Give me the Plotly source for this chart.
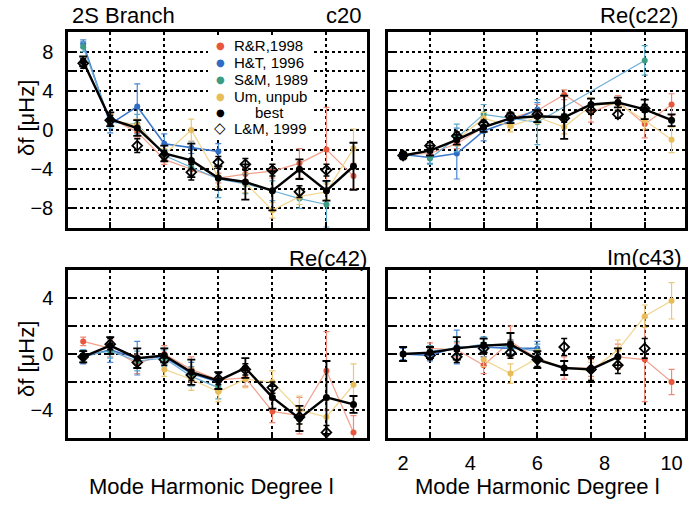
import plotly.graph_objects as go

# ---------------- data ----------------
degree = [2.0, 2.8, 3.6, 4.4, 5.2, 6.0, 6.8, 7.6, 8.4, 9.2, 10.0]
x_tick_labels = [2, 4, 6, 8, 10]
x_grid = [2.8, 4.4, 6.0, 7.6, 9.2]

series_names = ["R&R,1998", "H&T, 1996", "S&M, 1989", "Um, unpub", "best", "L&M, 1999"]
panel_titles = ["c20", "Re(c22)", "Re(c42)", "Im(c43)"]
N = None

# c20
c20_rr = [7.0, 1.2, -0.2, -3.0, -4.0, -4.9, -4.5, -4.2, -3.4, -2.0, -4.7]
c20_rr_err = [0.5, 0.5, 0.6, 0.5, 0.6, 0.5, 0.6, 0.7, 1.5, 4.3, 1.3]
c20_ht = [8.8, 0.6, 2.4, -1.4, -1.8, -2.2, N, N, N, N, N]
c20_ht_err = [0.4, 0.9, 2.3, 1.0, 0.6, 0.8, 0, 0, 0, 0, 0]
c20_sm = [8.5, 0.8, 0.6, -2.6, -3.8, -5.0, -5.5, -6.2, -7.0, -7.6, N]
c20_sm_err = [0.5, 0.6, 1.0, 0.6, 0.8, 1.9, 1.0, 1.0, 1.0, 2.3, 0]
c20_um = [N, 1.0, 0.5, -2.5, 0.0, -4.8, -5.4, -8.2, -6.8, -6.3, -1.9]
c20_um_err = [0, 0.6, 0.6, 0.6, 1.1, 1.0, 1.0, 0.8, 0.8, 0.8, 2.0]
c20_best = [7.0, 1.1, 0.2, -2.4, -3.1, -4.9, -5.3, -6.2, -4.0, -6.2, -3.7]
c20_best_err = [0.5, 0.7, 0.8, 0.8, 1.7, 1.2, 1.8, 2.0, 1.0, 1.0, 2.4]
c20_lm = [6.8, 1.0, -1.6, -2.6, -4.3, -3.3, -3.5, -4.1, -6.3, -4.1, N]
c20_lm_err = [0.5, 0.5, 0.7, 0.5, 0.8, 0.6, 0.6, 0.6, 0.6, 0.6, 0]

# Re(c22)
c22_rr = [-2.5, -2.4, -1.4, 0.3, 1.2, 2.0, 3.6, 1.8, 2.9, 0.6, 2.6]
c22_rr_err = [0.3, 0.4, 0.5, 0.5, 0.5, 0.6, 0.5, 1.0, 0.6, 1.4, 1.1]
c22_ht = [-2.5, -2.8, -2.4, -0.1, 0.9, 2.1, N, N, N, N, N]
c22_ht_err = [0.3, 0.6, 2.6, 1.0, 0.6, 0.7, 0, 0, 0, 0, 0]
c22_sm = [N, -2.9, -0.8, 1.6, 1.2, 0.8, N, N, N, 7.1, N]
c22_sm_err = [0, 0.6, 1.4, 1.0, 0.5, 2.3, 0, 0, 0, 1.5, 0]
c22_um = [N, N, -1.0, 1.2, 0.4, 1.3, 0.3, 2.5, 2.7, 1.0, -1.0]
c22_um_err = [0, 0, 0.6, 0.6, 0.6, 0.6, 0.7, 0.8, 0.6, 0.9, 1.3]
c22_best = [-2.6, -2.1, -1.0, 0.3, 1.2, 1.4, 1.3, 2.6, 2.8, 2.1, 1.0]
c22_best_err = [0.3, 0.5, 0.5, 0.5, 0.5, 0.6, 2.2, 0.6, 0.5, 1.0, 0.6]
c22_lm = [-2.6, -1.6, -0.6, 0.6, 1.4, 1.6, 1.2, 2.0, 1.6, 2.2, N]
c22_lm_err = [0.4, 0.4, 0.4, 0.4, 0.4, 0.4, 0.4, 0.4, 0.4, 0.4, 0]

# Re(c42)
c42_rr = [0.9, 0.4, -0.7, 0.0, -1.1, -1.85, -1.7, -4.1, -4.4, -1.2, -5.6]
c42_rr_err = [0.3, 0.6, 0.7, 0.6, 0.9, 0.6, 0.6, 0.8, 1.3, 2.8, 1.2]
c42_ht = [-0.2, 0.3, -0.3, -0.2, -1.4, -2.0, N, N, N, N, N]
c42_ht_err = [0.5, 0.9, 1.2, 0.6, 0.8, 0.7, 0, 0, 0, 0, 0]
c42_sm = [-0.1, 0.2, -0.5, -0.3, -1.6, -2.4, N, N, N, N, N]
c42_sm_err = [0.4, 0.5, 0.7, 0.6, 0.7, 0.8, 0, 0, 0, 0, 0]
c42_um = [N, N, N, -1.1, -1.8, -2.7, -1.8, -2.0, -4.0, -4.5, -2.2]
c42_um_err = [0, 0, 0, 0.5, 0.8, 0.7, 0.6, 0.8, 1.0, 1.2, 1.5]
c42_best = [-0.2, 0.6, -0.3, -0.1, -1.3, -1.9, -1.0, -3.1, -4.6, -3.1, -3.6]
c42_best_err = [0.4, 0.6, 0.7, 0.5, 0.9, 0.6, 0.7, 0.8, 0.9, 2.6, 0.6]
c42_lm = [-0.2, 0.7, -0.6, -0.4, -1.5, -1.8, -1.1, -2.4, -4.5, -5.6, N]
c42_lm_err = [0.4, 0.4, 0.4, 0.4, 0.4, 0.4, 0.4, 0.4, 0.5, 0.5, 0]

# Im(c43)
c43_rr = [N, 0.4, 0.3, -0.8, 0.9, -0.3, -1.0, -1.0, -0.2, -0.4, -2.0]
c43_rr_err = [0, 0.4, 0.5, 0.6, 1.1, 0.6, 0.8, 0.6, 0.9, 3.0, 0.9]
c43_ht = [0.0, -0.1, 0.5, 0.5, 0.4, 0.4, N, N, N, N, N]
c43_ht_err = [0.4, 0.4, 1.2, 0.7, 0.5, 0.5, 0, 0, 0, 0, 0]
c43_sm = [N, 0.2, 0.4, 0.7, 0.5, 0.2, N, N, N, N, N]
c43_sm_err = [0, 0.4, 0.5, 0.5, 0.5, 0.5, 0, 0, 0, 0, 0]
c43_um = [N, N, N, -0.4, -1.4, -0.3, -1.0, -1.2, 0.3, 2.7, 3.8]
c43_um_err = [0, 0, 0, 0.5, 0.7, 0.6, 0.5, 0.6, 0.7, 0.8, 1.3]
c43_best = [0.0, 0.1, 0.4, 0.6, 0.7, -0.4, -1.0, -1.1, -0.2, N, N]
c43_best_err = [0.5, 0.4, 0.8, 0.5, 0.8, 0.6, 0.5, 0.9, 0.6, 0, 0]
c43_lm = [N, -0.1, -0.2, 0.4, 0.1, -0.4, 0.5, -1.1, -0.8, 0.4, N]
c43_lm_err = [0, 0.3, 0.4, 0.4, 0.4, 0.5, 0.6, 0.8, 0.6, 0.7, 0]

panels = [
    [(c20_rr, c20_rr_err), (c20_ht, c20_ht_err), (c20_sm, c20_sm_err), (c20_um, c20_um_err), (c20_best, c20_best_err), (c20_lm, c20_lm_err)],
    [(c22_rr, c22_rr_err), (c22_ht, c22_ht_err), (c22_sm, c22_sm_err), (c22_um, c22_um_err), (c22_best, c22_best_err), (c22_lm, c22_lm_err)],
    [(c42_rr, c42_rr_err), (c42_ht, c42_ht_err), (c42_sm, c42_sm_err), (c42_um, c42_um_err), (c42_best, c42_best_err), (c42_lm, c42_lm_err)],
    [(c43_rr, c43_rr_err), (c43_ht, c43_ht_err), (c43_sm, c43_sm_err), (c43_um, c43_um_err), (c43_best, c43_best_err), (c43_lm, c43_lm_err)],
]

# ---------------- styling ----------------
W, H = 689, 510
FONT = "Liberation Sans, Arial, Helvetica, sans-serif"
marker_colors = ["#e8563e", "#2f6cc4", "#3d9c84", "#e8bc58", "#000000", "#000000"]
line_colors = ["#f2a08c", "#3a78cc", "#6aaed6", "#f0d58e", "#000000", "#000000"]
err_colors = ["#f08a78", "#4a88d4", "#5aa8c8", "#eac878", "#000000", "#000000"]

col_dom = [[68 / W, 367 / W], [388 / W, 685 / W]]
row_dom = [[1 - 228 / H, 1 - 32 / H], [1 - 438 / H, 1 - 270 / H]]
yranges = [[-10, 10], [-10, 10], [-6, 6], [-6, 6]]

fig = go.Figure()

for p, data in enumerate(panels):
    k = p + 1
    xa = "x" if k == 1 else f"x{k}"
    ya = "y" if k == 1 else f"y{k}"
    for s, (vals, errs) in enumerate(data):
        if s == 5:
            fig.add_trace(go.Scatter(
                x=degree, y=vals, xaxis=xa, yaxis=ya, mode="markers",
                marker=dict(symbol="diamond-open", size=7.5, color="black", line=dict(width=1.8)),
                error_y=dict(type="data", array=errs, color="black", thickness=1.5, width=3),
                showlegend=False, hoverinfo="skip"))
        else:
            is_best = s == 4
            fig.add_trace(go.Scatter(
                x=degree, y=vals, xaxis=xa, yaxis=ya, mode="lines+markers",
                connectgaps=True,
                line=dict(color=line_colors[s], width=2.4 if is_best else (1.6 if s == 1 else 1.2)),
                marker=dict(symbol="circle", size=7 if is_best else 6, color=marker_colors[s]),
                error_y=dict(type="data", array=errs, color=err_colors[s],
                             thickness=1.8 if is_best else 1.2, width=4 if is_best else 3),
                showlegend=False, hoverinfo="skip"))

axis_common = dict(showline=True, mirror=True, linecolor="black", linewidth=2.5,
                   zeroline=False, tickfont=dict(family=FONT, size=20, color="black"))

for p in range(4):
    k = p + 1
    r, c = divmod(p, 2)
    xkey = "xaxis" if k == 1 else f"xaxis{k}"
    ykey = "yaxis" if k == 1 else f"yaxis{k}"
    ya = "y" if k == 1 else f"y{k}"
    xa = "x" if k == 1 else f"x{k}"
    lo, hi = yranges[p]
    ygrid = list(range(lo + 2, hi - 1, 2))
    ylab = [("\u2212" + str(-v) if v < 0 else str(v)) if v % 4 == 0 else "" for v in ygrid]
    fig.layout[xkey] = dict(
        axis_common, domain=col_dom[c], anchor=ya, range=[1.55, 10.4],
        tickmode="array", tickvals=x_tick_labels, ticktext=[str(v) for v in x_tick_labels],
        ticks="", showgrid=False, showticklabels=(k == 4), ticklabelstandoff=5,
        minor=dict(tickmode="array", tickvals=x_grid, ticks="inside", ticklen=6, tickwidth=1.5,
                   tickcolor="black", showgrid=True, gridcolor="black", gridwidth=1.6, griddash="dot"))
    fig.layout[ykey] = dict(
        axis_common, domain=row_dom[r], anchor=xa, range=[lo, hi],
        tickmode="array", tickvals=ygrid, ticktext=ylab, showticklabels=(c == 0),
        ticks="inside", ticklen=6, tickwidth=1.5, tickcolor="black", ticklabelstandoff=8,
        showgrid=True, gridcolor="black", gridwidth=1.6, griddash="dot")

ann = []
tf = dict(family=FONT, size=22, color="black")
ann.append(dict(text="2S Branch", x=70 / W, y=1 - 15 / H, xanchor="left", yanchor="middle"))
ann.append(dict(text=panel_titles[0], x=363 / W, y=1 - 15 / H, xanchor="right", yanchor="middle"))
ann.append(dict(text=panel_titles[1], x=680 / W, y=1 - 15 / H, xanchor="right", yanchor="middle"))
ann.append(dict(text=panel_titles[2], x=369 / W, y=1 - 258 / H, xanchor="right", yanchor="middle"))
ann.append(dict(text=panel_titles[3], x=684 / W, y=1 - 257 / H, xanchor="right", yanchor="middle"))
for yc in [118, 359]:
    ann.append(dict(text="\u03b4f [\u03bcHz]", x=26 / W, y=1 - yc / H, xanchor="center",
                    yanchor="middle", textangle=-90))
for xc in [211, 537]:
    ann.append(dict(text="Mode Harmonic Degree l", x=xc / W, y=1 - 486 / H,
                    xanchor="center", yanchor="middle"))
for a in ann:
    a.update(xref="paper", yref="paper", showarrow=False, font=tf)

# legend drawn inside the first panel
legend_rows = [45, 62, 79, 96, 112, 128]
legend_text_x = [232, 232, 232, 232, 253, 232]
for s, name in enumerate(series_names):
    yc = 1 - legend_rows[s] / H
    if s == 5:
        sym = dict(text="\u25c7", font=dict(family="DejaVu Sans", size=15, color="black"))
    else:
        sym = dict(text="\u25cf", font=dict(family="DejaVu Sans", size=10, color=marker_colors[s]))
    ann.append(dict(sym, x=220 / W, y=yc, xref="paper", yref="paper", showarrow=False,
                    xanchor="center", yanchor="middle"))
    ann.append(dict(text=name, x=legend_text_x[s] / W, y=yc, xref="paper", yref="paper",
                    showarrow=False, xanchor="left", yanchor="middle",
                    font=dict(family=FONT, size=15, color="black")))

fig.update_layout(
    width=W, height=H, margin=dict(l=0, r=0, t=0, b=0),
    paper_bgcolor="white", plot_bgcolor="white",
    font=dict(family=FONT, color="black"),
    annotations=ann, showlegend=False,
    shapes=[dict(type="rect", xref="paper", yref="paper", layer="above",
                 x0=208 / W, x1=314 / W, y0=1 - 138 / H, y1=1 - 36 / H,
                 fillcolor="white", line=dict(width=0))],
)

fig.write_html("out.html")
